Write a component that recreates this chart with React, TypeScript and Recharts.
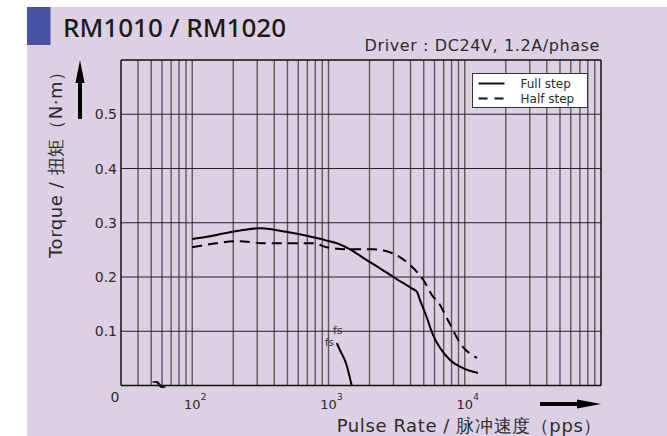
import {
  ComposedChart,
  Line,
  XAxis,
  YAxis,
  ReferenceLine,
  Customized,
} from 'recharts';

// pulse rate (pps) / torque (N·m)
const fullStepRate = [100, 128, 169, 230, 315, 522, 692, 945, 1215, 1440, 1910, 2390, 2995, 4085, 4450, 4700, 5290, 5760, 6590, 7800, 9720, 12500];
const fullStepTorque = [0.27, 0.274, 0.28, 0.286, 0.29, 0.282, 0.276, 0.268, 0.26, 0.251, 0.231, 0.216, 0.2, 0.179, 0.173, 0.157, 0.124, 0.097, 0.069, 0.047, 0.032, 0.023];

const halfStepRate = [100, 150, 212, 352, 775, 970, 1440, 2140, 3000, 3970, 4980, 5890, 6240, 7550, 9250, 12300];
const halfStepTorque = [0.255, 0.262, 0.266, 0.262, 0.262, 0.255, 0.251, 0.251, 0.243, 0.222, 0.194, 0.163, 0.157, 0.12, 0.078, 0.051];

// fs curve (start frequency)
const fsRate = [1150, 1215, 1345, 1480];
const fsTorque = [0.078, 0.065, 0.041, 0];

const rateTicks = [100, 1000, 10000];
const tickExponents = ['2', '3', '4'];
const torqueTicks = [0, 0.1, 0.2, 0.3, 0.4, 0.5];
const gridRates = [
  40, 50, 60, 70, 80, 90,
  100, 200, 300, 400, 500, 600, 700, 800, 900,
  1000, 2000, 3000, 4000, 5000, 6000, 7000, 8000, 9000,
  10000, 20000, 30000, 40000, 50000, 60000, 70000, 80000, 90000,
];
const gridTorque = [0.1, 0.2, 0.3, 0.4, 0.5];
const legendNames = ['Full step', 'Half step'];

const fullData = fullStepRate.map((rate, i) => ({ rate, torque: fullStepTorque[i] }));
const halfData = halfStepRate.map((rate, i) => ({ rate, torque: halfStepTorque[i] }));
const fsData = fsRate.map((rate, i) => ({ rate, torque: fsTorque[i] }));

const FONT = '"DejaVu Sans", Verdana, sans-serif';
const TEXT = '#2b2b2b';

function XTick({ x, y, payload }: any) {
  const idx = rateTicks.indexOf(payload.value);
  return (
    <text x={x + 3} y={y + 23.5} textAnchor="middle" fontFamily={FONT} fontSize={13} fill={TEXT}>
      10
      <tspan dy={-9} fontSize={9}>{tickExponents[idx]}</tspan>
    </text>
  );
}

function YTick({ x, y, payload }: any) {
  if (payload.value === 0) {
    // "0" sits below the corner
    return (
      <text x={x - 2} y={y + 16} textAnchor="middle" fontFamily={FONT} fontSize={14} fill={TEXT}>
        0
      </text>
    );
  }
  return (
    <text x={x} y={y + 5} textAnchor="end" fontFamily={FONT} fontSize={14} fill={TEXT}>
      {payload.value.toFixed(1)}
    </text>
  );
}

function Decorations() {
  return (
    <g>
      {/* title */}
      <rect x={27} y={7} width={23.5} height={38} fill="#4652a3" />
      <text x={63} y={37} fontFamily='"Noto Sans", sans-serif' fontWeight={500} fontSize={26} fill="#1a1a1a">
        RM1010 / RM1020
      </text>
      <text x={600} y={50.5} textAnchor="end" fontFamily={FONT} fontSize={16} letterSpacing={0.6} fill={TEXT}>
        Driver : DC24V, 1.2A/phase
      </text>

      {/* axis titles */}
      <text
        x={62}
        y={258}
        transform="rotate(-90, 62, 258)"
        fontFamily={FONT}
        fontSize={18}
        letterSpacing={0.6}
        fill={TEXT}
      >
        Torque / 扭矩（N·m）
      </text>
      <text x={602} y={432} textAnchor="end" fontFamily={FONT} fontSize={18} letterSpacing={0.6} fill={TEXT}>
        Pulse Rate / 脉冲速度（pps）
      </text>

      {/* arrows */}
      <line x1={80} x2={80} y1={119} y2={78} stroke="#000" strokeWidth={4} />
      <polygon points="80,60 75.5,83 84.5,83" fill="#000" />
      <line x1={540} x2={580} y1={404} y2={404} stroke="#000" strokeWidth={4} />
      <polygon points="601,404 577,399.5 577,408.5" fill="#000" />

      {/* axis break mark */}
      <path d="M152.5,382 L156.5,382 L160.5,387 L164,387" fill="none" stroke="#111" strokeWidth={1.3} />
      <path d="M154.5,382 L158,382 L162,387 L165.5,387" fill="none" stroke="#111" strokeWidth={1.3} />

      {/* fs labels */}
      <text x={333} y={334} fontFamily={FONT} fontSize={11} fill="#333">fs</text>
      <text x={325} y={346} fontFamily={FONT} fontSize={10} fill="#333">fs</text>
    </g>
  );
}

function LegendBox() {
  return (
    <svg width={117} height={36} style={{ display: 'block' }}>
      <rect x={0.5} y={0.5} width={115} height={34} fill="#fff" stroke="#333" strokeWidth={1} />
      <line x1={6.5} x2={32.5} y1={10.5} y2={10.5} stroke="#111" strokeWidth={2} />
      <line x1={6.5} x2={32.5} y1={25.5} y2={25.5} stroke="#111" strokeWidth={2} strokeDasharray="9 7" />
      <text x={48.5} y={15} fontFamily={FONT} fontSize={12} fill={TEXT}>{legendNames[0]}</text>
      <text x={48.5} y={30} fontFamily={FONT} fontSize={12} fill={TEXT}>{legendNames[1]}</text>
    </svg>
  );
}

export default function App() {
  return (
    <div style={{ position: 'absolute', left: 0, top: 0, width: 667, height: 436, background: '#fff' }}>
      <div
        style={{
          position: 'absolute',
          left: 27,
          top: 7,
          width: 640,
          height: 429,
          background: '#ddd0e4',
        }}
      />
      <div style={{ position: 'absolute', left: 0, top: 0 }}>
        <ComposedChart
          width={667}
          height={436}
          margin={{ top: 60, right: 66, bottom: 20.5, left: 81 }}
        >
          <XAxis
            dataKey="rate"
            type="number"
            scale="log"
            domain={[30, 100000]}
            allowDataOverflow
            ticks={rateTicks}
            tick={<XTick />}
            tickLine={false}
            tickSize={0}
            tickMargin={0}
            height={30}
            axisLine={{ stroke: '#111', strokeWidth: 1.5 }}
          />
          <YAxis
            dataKey="torque"
            type="number"
            domain={[0, 0.6]}
            allowDataOverflow
            ticks={torqueTicks}
            tick={<YTick />}
            tickLine={false}
            tickSize={0}
            tickMargin={4}
            width={40}
            axisLine={{ stroke: '#111', strokeWidth: 1.5 }}
          />

          {gridRates.map((r) => (
            <ReferenceLine key={`v${r}`} x={r} stroke="#5a5a5a" strokeWidth={1.4} />
          ))}
          {gridTorque.map((t) => (
            <ReferenceLine key={`h${t}`} y={t} stroke="#222" strokeWidth={1.2} />
          ))}
          <ReferenceLine y={0.6} stroke="#111" strokeWidth={1.5} />
          <ReferenceLine x={100000} stroke="#111" strokeWidth={1.5} />

          <Line
            data={fullData}
            dataKey="torque"
            name={legendNames[0]}
            type="monotone"
            stroke="#000"
            strokeWidth={2}
            dot={false}
            isAnimationActive={false}
          />
          <Line
            data={halfData}
            dataKey="torque"
            name={legendNames[1]}
            type="monotone"
            stroke="#000"
            strokeWidth={2}
            strokeDasharray="10 6"
            dot={false}
            isAnimationActive={false}
          />
          <Line
            data={fsData}
            dataKey="torque"
            type="monotone"
            stroke="#000"
            strokeWidth={2}
            dot={false}
            isAnimationActive={false}
          />

          <Customized component={Decorations} />
        </ComposedChart>
      </div>
      <div style={{ position: 'absolute', left: 471.5, top: 73 }}>
        <LegendBox />
      </div>
    </div>
  );
}
